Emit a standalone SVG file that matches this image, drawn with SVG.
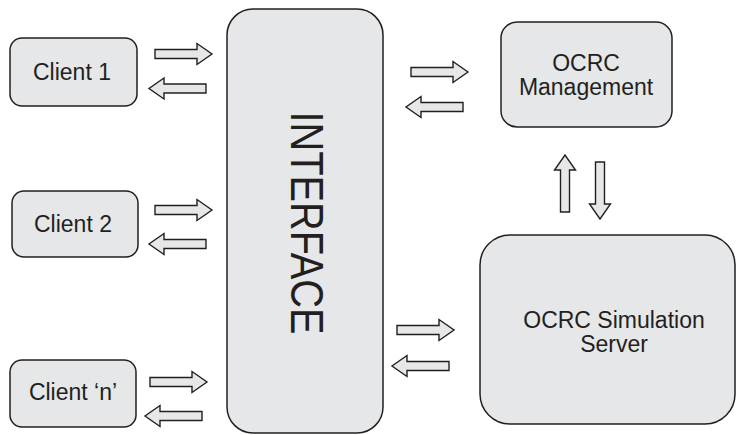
<svg xmlns="http://www.w3.org/2000/svg" width="738" height="435" viewBox="0 0 738 435">
<style>
.box{fill:#e6e7e8;stroke:#231f20;stroke-width:1.5}
.arr{fill:#e6e7e8;stroke:#231f20;stroke-width:1.4;stroke-linejoin:miter}
.t{font-family:"Liberation Sans",Arial,sans-serif;font-size:23px;fill:#231f20;text-anchor:middle}
</style>
<defs>
<path id="a" d="M0,-4.5 H42 V-10.5 L57,0 L42,10.5 V4.5 H0 Z"/>
</defs>
<rect width="738" height="435" fill="#ffffff"/>
<g id="client1"><rect class="box" x="10" y="38" width="127" height="68" rx="12"/><text class="t" x="72" y="80">Client 1</text></g>
<g id="client2"><rect class="box" x="12" y="191" width="126" height="66" rx="12"/><text class="t" x="73" y="232">Client 2</text></g>
<g id="clientn"><rect class="box" x="10" y="360" width="126" height="67" rx="12"/><text class="t" x="73" y="400">Client ‘n’</text></g>
<g id="interface"><rect class="box" x="227" y="9" width="156" height="424" rx="26"/><text class="t" x="0" y="0" textLength="223" lengthAdjust="spacingAndGlyphs" dominant-baseline="central" transform="translate(307,223) rotate(90)" style="font-size:46px">INTERFACE</text></g>
<g id="management"><rect class="box" x="501" y="22" width="171" height="105" rx="16"/><text class="t" x="586" y="70.5">OCRC</text><text class="t" x="586" y="94.5">Management</text></g>
<g id="server"><rect class="box" x="480" y="235" width="255" height="189" rx="30"/><text class="t" x="614" y="328">OCRC Simulation</text><text class="t" x="614" y="352">Server</text></g>
<g id="connectors">
<use href="#a" class="arr" transform="translate(155,54)"/>
<use href="#a" class="arr" transform="translate(206,88.5) rotate(180)"/>
<use href="#a" class="arr" transform="translate(155,210)"/>
<use href="#a" class="arr" transform="translate(206,244) rotate(180)"/>
<use href="#a" class="arr" transform="translate(150,382)"/>
<use href="#a" class="arr" transform="translate(202,416) rotate(180)"/>
<use href="#a" class="arr" transform="translate(411,72)"/>
<use href="#a" class="arr" transform="translate(463,107) rotate(180)"/>
<use href="#a" class="arr" transform="translate(565,212) rotate(-90)"/>
<use href="#a" class="arr" transform="translate(600,162) rotate(90)"/>
<use href="#a" class="arr" transform="translate(397,330)"/>
<use href="#a" class="arr" transform="translate(449,366) rotate(180)"/>
</g>
</svg>
